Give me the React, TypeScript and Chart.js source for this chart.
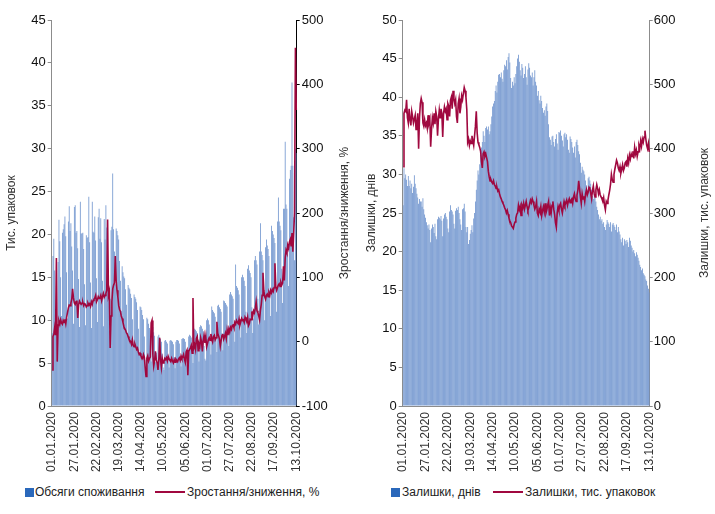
import React, { useEffect, useRef } from 'react';
import { Chart, registerables } from 'chart.js';

Chart.register(...registerables);

const FONT = '"Liberation Sans", Arial, sans-serif';

// x-axis tick labels (every 26th day)
const tickLabels = [
  '01.01.2020', '27.01.2020', '22.02.2020', '19.03.2020', '14.04.2020', '10.05.2020',
  '05.06.2020', '01.07.2020', '27.07.2020', '22.08.2020', '17.09.2020', '13.10.2020',
];

// daily categories 01.01.2020 .. 13.10.2020
const dayLabels: string[] = (() => {
  const out: string[] = [];
  const d = new Date(2020, 0, 1);
  const end = new Date(2020, 9, 13);
  while (d <= end) {
    const dd = String(d.getDate()).padStart(2, '0');
    const mm = String(d.getMonth() + 1).padStart(2, '0');
    out.push(`${dd}.${mm}.${d.getFullYear()}`);
    d.setDate(d.getDate() + 1);
  }
  return out;
})();

// Left chart: consumption volumes, thousand packages
const consumption = [
  8.5, 17.5, 19.5, 15.8, 11, 17.2, 9.5,
  16.8, 21.7, 19.2, 15, 10.5, 20.2, 20.6,
  21.2, 22.1, 19.8, 15.6, 10.2, 21.5, 23.3,
  20.4, 21.3, 18.6, 15.8, 9.6, 23.2, 23.4,
  20.2, 20.4, 18.4, 14.8, 9.2, 23.8, 20.1,
  20.1, 20.2, 18.3, 14.2, 9.4, 19.9, 19.6,
  19.7, 24.4, 19.1, 14.4, 9.1, 23.8, 20.3,
  20.2, 22.1, 19.3, 14.9, 9.8, 22.0, 23.0,
  19.5, 21.9, 19.1, 14.6, 9.3, 21.8, 19.4,
  23.4, 20.8, 19.6, 14.2, 8.8, 12.5, 20.5,
  20.9, 27.1, 20.6, 18.0, 14.2, 20.7, 20.4,
  19.9, 19.4, 16.9, 14.6, 11.1, 16.3, 15.6,
  15.1, 14.9, 13.6, 11.8, 8.2, 14.1, 13.8,
  13.6, 13.1, 12.6, 10.1, 7.2, 13.0, 12.7,
  12.5, 12.1, 11.2, 9.0, 6.2, 11.6, 11.5,
  11.2, 10.6, 10.1, 8.1, 4.6, 5.4, 10.3,
  10.1, 9.6, 9.1, 7.1, 5.2, 9.6, 9.2,
  8.6, 8.2, 5.1, 6.2, 4.6, 8.1, 8.3,
  8.0, 7.8, 7.5, 6.1, 4.5, 4.2, 7.6,
  7.7, 7.5, 7.3, 5.8, 4.5, 7.6, 7.7,
  7.6, 7.5, 7.2, 5.7, 4.4, 7.5, 7.7,
  7.7, 7.6, 7.3, 5.8, 4.6, 7.8, 7.9,
  7.9, 7.8, 7.5, 6.0, 4.8, 4.6, 8.1,
  8.3, 8.2, 8.0, 6.3, 5.0, 8.8, 9.0,
  8.9, 8.7, 8.5, 6.5, 5.2, 9.2, 9.4,
  9.3, 9.0, 8.7, 7.0, 5.5, 5.3, 10.0,
  10.2, 10.0, 9.5, 7.5, 6.0, 11.6, 11.2,
  11.0, 10.8, 10.4, 8.0, 6.3, 11.7, 11.8,
  11.5, 11.3, 11.0, 8.5, 6.5, 12.3, 12.2,
  12.0, 11.8, 11.6, 9.0, 7.0, 13.0, 13.3,
  13.0, 12.8, 12.5, 9.5, 7.5, 16.5, 14.0,
  13.8, 13.5, 13.0, 10.0, 8.0, 15.0, 15.3,
  15.0, 14.6, 14.0, 11.0, 8.5, 16.0, 16.4,
  15.8, 15.5, 15.0, 11.5, 8.5, 10.2, 17.0,
  17.5, 17.0, 16.5, 12.5, 9.5, 18.0, 21.3,
  18.0, 17.6, 17.0, 13.0, 10.0, 18.5, 19.4,
  18.7, 18.3, 17.5, 13.5, 10.5, 21.0, 20.4,
  20.0, 19.6, 19.0, 14.5, 11.0, 21.5, 24.3,
  21.5, 21.0, 20.5, 16.0, 12.0, 23.0, 23.0,
  30.8, 23.5, 23.0, 18.0, 14.0, 26.5, 27.5,
  28.0, 37.7, 28.0, 22.0, 17.0, 30.0, 29.5,
];

// Left chart: growth / decline, %
const growth = [
  -44, 8, 12, 22, 10, 130, -31,
  26, 32, 27, 34, 29, 27, 33,
  30, 35, 28, 38, 45, 52, 57,
  56, 60, 66, 82, 68, 60, 58,
  62, 64, 37, 57, 63, 60, 58,
  60, 61, 56, 59, 58, 54, 56,
  60, 57, 59, 55, 62, 58, 64,
  66, 68, 72, 62, 65, 70, 67,
  68, 72, 64, 70, 75, 69, 72,
  75, 80, 190, 72, 78, -10, 40,
  62, 82, 88, 91, 133, 95, 80,
  70, 56, 50, 47, 40, 36, 30,
  24, 20, 18, 14, 12, 8, 4,
  2, 0, -4, 3, -6, -8, -4,
  -8, -12, -10, -16, -20, -18, -22,
  -24, -26, -20, -24, -40, -54, -26,
  -22, -30, -26, -24, 29, 33, -20,
  -38, -30, -15, -28, -33, -44, -28,
  6, -28, -40, -26, -33, -31, -26,
  -28, -25, -30, -23, -27, -29, -31,
  -26, -30, -33, -28, -32, -27, -29,
  -31, -27, -25, -29, -22, -26, -24,
  -20, -27, -32, -16, -13, -52, -15,
  -12, -10, -6, -18, 68, -10, -5,
  -12, 5, 8, -14, -3, -7, 6,
  0, -15, 2, 10, -2, 8, -8,
  -3, 3, 6, 2, 12, 5, 0,
  8, 10, 3, 6, 31, 13, 9,
  4, -7, 2, 10, 12, 4, 8,
  13, 5, 18, 10, 20, 15, 22,
  19, 25, 26, 22, 30, 27, 33,
  30, 28, 35, 26, 31, 36, 33,
  34, 30, 38, 35, 31, 38, 25,
  28, 35, 34, 47, 40, 48, 45,
  52, 62, 48, 45, 40, 34, 49,
  58, 72, 107, 80, 70, 66, 72,
  74, 70, 76, 72, 80, 76, 81,
  78, 84, 122, 86, 80, 84, 88,
  90, 86, 92, 88, 91, 117, 95,
  130, 142, 138, 150, 145, 155, 159,
  148, 169, 140, 170, 200, 457, 360,
];

// Right chart: stock, days
const stockDays = [
  26, 30.8, 29.5, 30, 29.3, 28.5, 29.8,
  28.5, 29.2, 28.2, 28.8, 27.6, 28.4, 29.9,
  28.8, 28.2, 27.5, 27.0, 26.2, 26.8, 26.5,
  26.5, 25.8, 26.9, 25.5, 24.8, 24.4, 23.8,
  23.4, 23.0, 23.5, 22.8, 21.2, 23.0, 23.5,
  23.2, 22.4, 23.6, 22.0, 21.6, 24.2, 24.5,
  24.4, 24.2, 24.6, 24.0, 22.0, 24.3, 24.8,
  25.0, 24.5, 24.2, 23.0, 22.5, 25.2, 26.0,
  25.4, 25.2, 24.8, 23.6, 23.0, 25.3, 25.6,
  25.4, 25.8, 25.0, 24.2, 23.5, 22.8, 25.5,
  25.6, 26.2, 25.2, 23.2, 22.5, 23.2, 21.0,
  21.5, 22.3, 22.8, 23.4, 22.5, 24.3, 25.0,
  26.5, 28.0, 29.2, 30.5, 30.0, 31.3, 32.5,
  33.5, 34.2, 35.6, 35.0, 34.2, 36.0, 36.2,
  35.8, 36.2, 35.2, 35.6, 36.5, 37.5, 38.8,
  39.2, 39.5, 40.8, 41.5, 40.6, 42.0, 42.9,
  43.0, 42.6, 43.2, 42.4, 42.0, 43.5, 44.2,
  44.0, 44.8, 43.6, 45.2, 45.7, 44.5, 42.5,
  41.2, 42.0, 41.5, 42.6, 41.8, 43.0, 44.0,
  45.0, 45.5, 44.6, 43.5, 42.8, 44.3, 43.8,
  42.5, 43.0, 44.0, 42.6, 41.6, 43.6, 44.4,
  43.8, 42.8, 42.6, 43.2, 41.5, 42.6, 43.5,
  42.0, 41.5, 40.2, 40.8, 39.6, 39.2, 40.2,
  39.5, 38.6, 38.0, 38.3, 37.6, 38.8, 39.2,
  38.2, 36.5, 34.8, 34.5, 33.8, 34.9, 35.0,
  34.2, 33.6, 34.6, 35.2, 34.0, 33.2, 35.5,
  35.4, 35.7, 35.0, 34.4, 33.6, 35.2, 35.4,
  34.8, 35.2, 34.5, 33.2, 32.8, 34.9, 34.6,
  34.2, 33.5, 32.8, 33.6, 32.2, 34.2, 34.5,
  33.8, 33.0, 32.6, 31.5, 30.2, 31.0, 30.6,
  30.4, 30.0, 29.2, 28.6, 28.0, 29.5, 29.7,
  29.2, 28.8, 28.0, 27.2, 26.8, 27.5, 27.0,
  26.5, 25.8, 25.4, 24.8, 24.2, 24.5, 24.0,
  24.2, 23.6, 23.8, 23.2, 22.8, 23.5, 24.1,
  23.8, 23.6, 23.2, 23.8, 22.6, 23.5, 23.7,
  23.4, 23.2, 22.8, 23.5, 22.5, 23.2, 22.6,
  22.2, 21.6, 21.2, 21.8, 20.8, 21.6, 21.4,
  21.0, 21.5, 21.2, 20.6, 21.8, 21.4, 20.8,
  20.5, 20.0, 20.2, 19.8, 19.4, 19.9, 19.6,
  19.2, 18.8, 18.3, 18.0, 17.6, 17.8, 17.2,
  17.0, 16.8, 16.4, 16.2, 15.6, 15.2, 14.7,
];

// Right chart: stock, thousand packages
const stockPacks = [
  372, 455, 460, 458, 476, 448, 440,
  462, 445, 436, 458, 450, 440, 446,
  452, 430, 440, 455, 400, 448, 470,
  478, 472, 440, 435, 445, 436, 440,
  432, 452, 440, 446, 403, 430, 448,
  440, 455, 438, 458, 450, 420, 446,
  460, 448, 462, 455, 418, 455, 465,
  458, 462, 445, 470, 466, 450, 475,
  480, 462, 490, 478, 470, 476, 450,
  440, 470, 478, 455, 465, 482, 476,
  486, 495, 490, 480, 460, 410, 415,
  405, 412, 408, 420, 412, 405, 420,
  435, 458, 425, 410, 406, 402, 396,
  380, 370, 392, 395, 388, 392, 386,
  380, 365, 356, 350, 352, 348, 346,
  350, 344, 342, 338, 340, 334, 336,
  330, 325, 322, 318, 315, 312, 308,
  305, 300, 304, 298, 292, 288, 285,
  280, 278, 276, 282, 286, 292, 298,
  300, 312, 305, 310, 296, 312, 308,
  315, 306, 312, 318, 310, 304, 308,
  314, 320, 316, 322, 318, 312, 306,
  310, 318, 300, 296, 306, 302, 310,
  296, 304, 310, 302, 315, 300, 305,
  312, 318, 296, 308, 300, 312, 318,
  306, 298, 285, 278, 300, 310, 304,
  312, 315, 306, 300, 310, 318, 312,
  316, 320, 312, 318, 322, 316, 320,
  322, 315, 325, 330, 322, 318, 328,
  335, 350, 338, 325, 315, 330, 322,
  326, 318, 330, 336, 328, 332, 340,
  338, 330, 322, 335, 342, 330, 325,
  336, 344, 338, 330, 336, 328, 325,
  322, 318, 324, 312, 305, 318, 315,
  320, 328, 335, 345, 360, 352, 348,
  360, 368, 375, 382, 378, 370, 366,
  372, 362, 368, 375, 366, 370, 378,
  380, 372, 385, 378, 390, 384, 392,
  388, 396, 385, 402, 392, 398, 388,
  395, 405, 400, 412, 404, 415, 410,
  418, 428, 415, 405, 400, 408, 395,
];

const BAR_COLOR = '#678ecb';
const LINE_COLOR = '#a0083f';
const LEGEND_BOX = '#2a68bb';

type Title = { text: string; x: number };

const sideTitles = {
  id: 'sideTitles',
  afterDraw(chart: any, _args: any, opts: any) {
    const { ctx, chartArea } = chart;
    const cy = (chartArea.top + chartArea.bottom) / 2;
    ctx.save();
    ctx.fillStyle = '#333';
    ctx.font = `12px ${FONT}`;
    ctx.textAlign = 'center';
    ctx.textBaseline = 'middle';
    (opts.items || []).forEach((t: Title) => {
      ctx.save();
      ctx.translate(t.x, cy);
      ctx.rotate(-Math.PI / 2);
      ctx.fillText(t.text, 0, 0);
      ctx.restore();
    });
    ctx.restore();
  },
};

type Cfg = {
  bars: number[];
  line: number[];
  barLabel: string;
  lineLabel: string;
  yMax: number;
  yStep: number;
  y1Min: number;
  y1Max: number;
  y1Step: number;
  leftW: number;
  rightW: number;
  y1Border: string;
  y1Pad: number;
  titles: Title[];
};

function buildConfig(c: Cfg): any {
  return {
    type: 'bar',
    data: {
      labels: dayLabels,
      datasets: [
        {
          type: 'line',
          label: c.lineLabel,
          data: c.line,
          yAxisID: 'y1',
          borderColor: LINE_COLOR,
          borderWidth: 1.6,
          pointRadius: 0,
          tension: 0,
          order: 0,
        },
        {
          type: 'bar',
          label: c.barLabel,
          data: c.bars,
          yAxisID: 'y',
          backgroundColor: BAR_COLOR,
          borderWidth: 0,
          barPercentage: 0.9,
          categoryPercentage: 1,
          order: 1,
        },
      ],
    },
    options: {
      responsive: true,
      maintainAspectRatio: false,
      animation: false,
      events: [],
      layout: { padding: { top: 20, left: 0, right: 0, bottom: 0 } },
      plugins: {
        legend: { display: false },
        tooltip: { enabled: false },
        sideTitles: { items: c.titles },
      },
      scales: {
        x: {
          type: 'category',
          offset: true,
          grid: { display: true, drawOnChartArea: false, drawTicks: false },
          border: { color: '#8c8c8c', width: 1 },
          ticks: {
            autoSkip: false,
            minRotation: 90,
            maxRotation: 90,
            padding: 6,
            color: '#333',
            font: { family: FONT, size: 12 },
            callback: (_v: any, i: number) => (i % 26 === 0 ? tickLabels[i / 26] : null),
          },
          afterFit: (s: any) => { s.height = 74; },
        },
        y: {
          position: 'left',
          min: 0,
          max: c.yMax,
          ticks: { stepSize: c.yStep, padding: 2, color: '#111', font: { family: FONT, size: 13 } },
          grid: { drawOnChartArea: false, tickLength: 4, color: '#8c8c8c' },
          border: { color: '#8c8c8c', width: 1 },
          afterFit: (s: any) => { s.width = c.leftW; },
        },
        y1: {
          position: 'right',
          min: c.y1Min,
          max: c.y1Max,
          ticks: { stepSize: c.y1Step, padding: c.y1Pad, color: '#111', font: { family: FONT, size: 13 } },
          grid: { drawOnChartArea: false, tickLength: 3, color: c.y1Border },
          border: { color: c.y1Border, width: 1 },
          afterFit: (s: any) => { s.width = c.rightW; },
        },
      },
    },
    plugins: [sideTitles],
  };
}

function Legend({ left, box, boxLabel, lineX, lineW, lineLabelX, lineLabel }: any) {
  return (
    <>
      <div style={{ position: 'absolute', left: box, top: 488, width: 9, height: 9, background: LEGEND_BOX }} />
      <div style={{ position: 'absolute', left, top: 484, height: 16, lineHeight: '16px', fontSize: 12, color: '#222', whiteSpace: 'nowrap' }}>{boxLabel}</div>
      <div style={{ position: 'absolute', left: lineX, top: 491, width: lineW, height: 2, background: LINE_COLOR }} />
      <div style={{ position: 'absolute', left: lineLabelX, top: 484, height: 16, lineHeight: '16px', fontSize: 12, color: '#222', whiteSpace: 'nowrap' }}>{lineLabel}</div>
    </>
  );
}

export default function App() {
  const leftRef = useRef<HTMLCanvasElement>(null);
  const rightRef = useRef<HTMLCanvasElement>(null);

  useEffect(() => {
    const c1 = new Chart(leftRef.current as HTMLCanvasElement, buildConfig({
      bars: consumption,
      line: growth,
      barLabel: 'Обсяги споживання',
      lineLabel: 'Зростання/зниження, %',
      yMax: 45, yStep: 5,
      y1Min: -100, y1Max: 500, y1Step: 100,
      leftW: 51.7, rightW: 60.3,
      y1Border: '#000', y1Pad: 2,
      titles: [
        { text: 'Тис. упаковок', x: 12 },
        { text: 'Зростання/зниження, %', x: 345 },
      ],
    }));
    const c2 = new Chart(rightRef.current as HTMLCanvasElement, buildConfig({
      bars: stockDays,
      line: stockPacks,
      barLabel: 'Залишки, днів',
      lineLabel: 'Залишки, тис. упаковок',
      yMax: 50, yStep: 5,
      y1Min: 0, y1Max: 600, y1Step: 100,
      leftW: 45.7, rightW: 65.3,
      y1Border: '#8c8c8c', y1Pad: 1,
      titles: [
        { text: 'Залишки, днів', x: 15 },
        { text: 'Залишки, тис. упаковок', x: 348 },
      ],
    }));
    return () => { c1.destroy(); c2.destroy(); };
  }, []);

  return (
    <div style={{ position: 'absolute', left: 0, top: 0, width: 715, height: 514, background: '#fff', fontFamily: FONT, overflow: 'hidden' }}>
      <div style={{ position: 'absolute', left: 0, top: 0, width: 357, height: 480 }}>
        <canvas ref={leftRef} />
      </div>
      <div style={{ position: 'absolute', left: 357, top: 0, width: 358, height: 480 }}>
        <canvas ref={rightRef} />
      </div>
      <Legend left={35} box={25} boxLabel="Обсяги споживання" lineX={155} lineW={30} lineLabelX={187} lineLabel="Зростання/зниження, %" />
      <Legend left={402} box={391} boxLabel="Залишки, днів" lineX={493} lineW={30} lineLabelX={525} lineLabel="Залишки, тис. упаковок" />
    </div>
  );
}
